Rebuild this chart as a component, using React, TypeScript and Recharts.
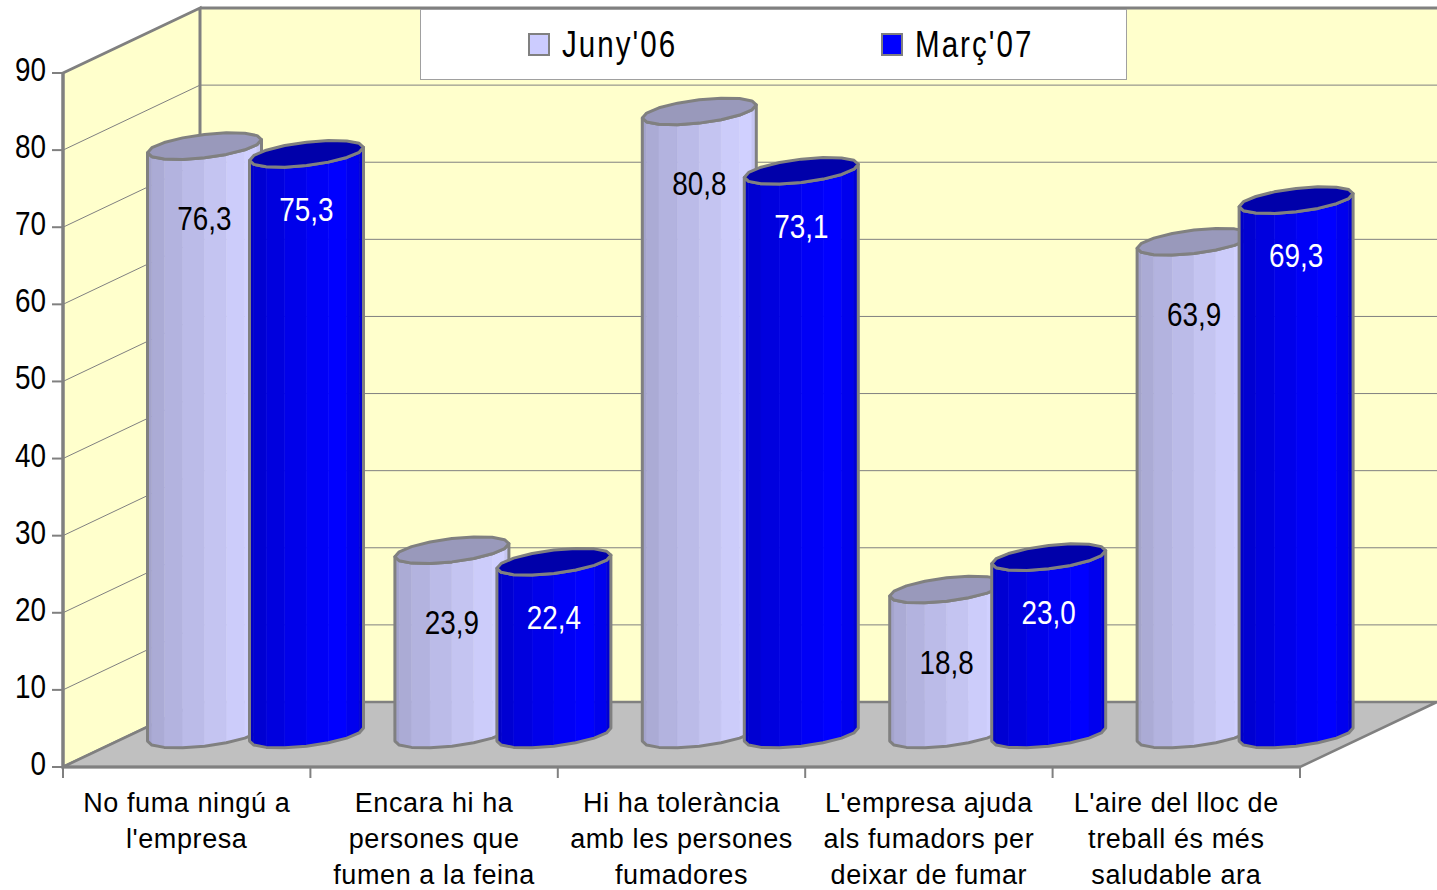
import React from "react";
import {
  BarChart,
  Bar,
  XAxis,
  YAxis,
  ReferenceArea,
  ReferenceLine,
  LabelList,
} from "recharts";

const categories = [
  "No fuma ningú a\nl'empresa",
  "Encara hi ha\npersones que\nfumen a la feina",
  "Hi ha tolerància\namb les persones\nfumadores",
  "L'empresa ajuda\nals fumadors per\ndeixar de fumar",
  "L'aire del lloc de\ntreball és més\nsaludable ara",
];
const juny06 = [76.3, 23.9, 80.8, 18.8, 63.9];
const marc07 = [75.3, 22.4, 73.1, 23.0, 69.3];
const seriesNames = ["Juny'06", "Març'07"];
const yTicks = [0, 10, 20, 30, 40, 50, 60, 70, 80, 90];

const data = categories.map((name, i) => ({
  name,
  juny06: juny06[i],
  marc07: marc07[i],
}));

// depth of the fake 3d box
const DX = 137;
const DY = 65;
const EDGE = "#808080";
const WALL = "#FFFFCC";
const FLOOR = "#C0C0C0";
// no narrow font installed: squeeze Liberation Sans instead
const NARROW = '"Liberation Sans", Arial, sans-serif';
const SQUEEZE = 0.82;
const PLAIN = '"Liberation Sans", Arial, sans-serif';

const LIGHT = {
  faces: ["#A3A3CB", "#ABABD5", "#B3B3DF", "#BBBBE8", "#C4C4F1", "#CCCCFA", "#D0D0FF", "#C6C6F2"],
  cap: "#9999BB",
  swatch: "#CCCCFF",
  text: "#000000",
  labelDrop: 72,
};
const DARK = {
  faces: ["#0000C4", "#0000D2", "#0000DE", "#0000EA", "#0000F6", "#0000FF", "#0000EE", "#0000D4"],
  cap: "#0000AA",
  swatch: "#0000FF",
  text: "#FFFFFF",
  labelDrop: 55,
};

const pts = (list: number[][]) => list.map((p) => p.join(",")).join(" ");

function NarrowText({ x, y, anchor, size, fill, children }: any) {
  return (
    <text
      transform={`translate(${x},${y}) scale(${SQUEEZE},1)`}
      x={0}
      y={0}
      textAnchor={anchor}
      fontFamily={NARROW}
      fontSize={size}
      fill={fill}
    >
      {children}
    </text>
  );
}

function makeCylinder(pal: typeof LIGHT) {
  return (props: any) => {
    const { x, y, width, height } = props;
    if (width == null || height == null) return <g />;
    const R = width / 2;
    const bx = R * 0.49;
    const by = -R * 0.235;
    const a = Math.sqrt(R * R - bx * bx);
    const cx = x + R + DX / 2;
    const top = y - DY / 2;
    const bot = y + height - DY / 2;
    const tL = Math.atan2(-bx, -a);
    const N = 16;
    const step = (2 * Math.PI) / N;
    const pt = (t: number, cy: number) => [
      cx + a * Math.cos(t) + bx * Math.sin(t),
      cy + by * Math.sin(t),
    ];
    const front = Array.from({ length: N / 2 + 1 }, (_, k) => tL + k * step);
    const faces = front.slice(0, -1).map((t, k) => {
      const t2 = front[k + 1];
      const f = pal.faces[k % pal.faces.length];
      return (
        <polygon
          key={k}
          points={pts([pt(t, top), pt(t2, top), pt(t2, bot), pt(t, bot)])}
          fill={f}
          stroke={f}
          strokeWidth={0.6}
        />
      );
    });
    const outline = [
      ...front.map((t) => pt(t, top)),
      ...front.slice().reverse().map((t) => pt(t, bot)),
    ];
    const cap = Array.from({ length: N }, (_, k) => pt(tL + k * step, top));
    return (
      <g>
        {faces}
        <polygon points={pts(outline)} fill="none" stroke={EDGE} strokeWidth={3} strokeLinejoin="round" />
        <polygon points={pts(cap)} fill={pal.cap} stroke={EDGE} strokeWidth={3} strokeLinejoin="round" />
      </g>
    );
  };
}

function makeLabel(pal: typeof LIGHT) {
  return (props: any) => {
    const { x, y, width, value } = props;
    return (
      <NarrowText
        x={x + width / 2 + DX / 2}
        y={y - DY / 2 + pal.labelDrop + 12}
        anchor="middle"
        size={34}
        fill={pal.text}
      >
        {Number(value).toFixed(1).replace(".", ",")}
      </NarrowText>
    );
  };
}

function Walls(props: any) {
  const { x, y, width, height } = props;
  const b = y + height;
  const n = categories.length;
  return (
    <g>
      <polygon
        points={pts([[x + DX, y - DY], [x + width + DX, y - DY], [x + width + DX, b - DY], [x + DX, b - DY]])}
        fill={WALL}
      />
      <polygon
        points={pts([[x, y], [x + DX, y - DY], [x + DX, b - DY], [x, b]])}
        fill={WALL}
        stroke={EDGE}
        strokeWidth={3}
      />
      <line x1={x + DX} y1={y - DY} x2={x + width + DX} y2={y - DY} stroke={EDGE} strokeWidth={3} />
      <polygon
        points={pts([[x, b], [x + DX, b - DY], [x + width + DX, b - DY], [x + width, b]])}
        fill={FLOOR}
        stroke={EDGE}
        strokeWidth={2.5}
      />
      {Array.from({ length: n + 1 }, (_, i) => (
        <line
          key={i}
          x1={x + (i * width) / n}
          y1={b}
          x2={x + (i * width) / n}
          y2={b + 11}
          stroke={EDGE}
          strokeWidth={2}
        />
      ))}
    </g>
  );
}

function GridShape(props: any) {
  const { x1, y1, x2 } = props;
  if (x1 == null) return <g />;
  return (
    <polyline
      points={pts([[x1, y1], [x1 + DX, y1 - DY], [x2 + DX, y1 - DY]])}
      fill="none"
      stroke={EDGE}
      strokeWidth={1}
    />
  );
}

function YTick(props: any) {
  const { x, y, payload } = props;
  return (
    <NarrowText x={x - 4} y={y + 8} anchor="end" size={34} fill="#000">
      {payload.value}
    </NarrowText>
  );
}

function XTick(props: any) {
  const { x, y, payload } = props;
  const lines = String(payload.value).split("\n");
  return (
    <text x={x} y={y} textAnchor="middle" fontFamily={PLAIN} fontSize={27} letterSpacing={0.6} fill="#000">
      {lines.map((l, i) => (
        <tspan key={i} x={x} dy={i === 0 ? 45 : 36}>
          {l}
        </tspan>
      ))}
    </text>
  );
}

const legendItems = [
  { name: seriesNames[0], color: LIGHT.swatch, left: 107 },
  { name: seriesNames[1], color: DARK.swatch, left: 460 },
];

export default function App() {
  return (
    <div style={{ position: "relative", width: 1437, height: 890, background: "#fff" }}>
      <style>{"body{margin:0}"}</style>
      <BarChart
        width={1437}
        height={890}
        data={data}
        margin={{ top: 73, right: 137, bottom: 0, left: 0 }}
        barSize={114}
        barGap={-12}
      >
        <ReferenceArea y1={0} y2={90} shape={Walls} zIndex={-90} ifOverflow="visible" />
        {yTicks.slice(1).map((t) => (
          <ReferenceLine key={t} y={t} shape={GridShape} zIndex={-80} ifOverflow="visible" />
        ))}
        <XAxis
          dataKey="name"
          interval={0}
          height={123}
          tickLine={false}
          tickSize={0}
          tickMargin={0}
          axisLine={{ stroke: EDGE, strokeWidth: 3 }}
          tick={XTick}
        />
        <YAxis
          type="number"
          domain={[0, 90]}
          ticks={yTicks}
          width={63}
          tickSize={11}
          axisLine={{ stroke: EDGE, strokeWidth: 3 }}
          tickLine={{ stroke: EDGE, strokeWidth: 2 }}
          tick={YTick}
        />
        <Bar dataKey="juny06" name={seriesNames[0]} fill={LIGHT.swatch} shape={makeCylinder(LIGHT)} isAnimationActive={false}>
          <LabelList dataKey="juny06" content={makeLabel(LIGHT)} />
        </Bar>
        <Bar dataKey="marc07" name={seriesNames[1]} fill={DARK.swatch} shape={makeCylinder(DARK)} isAnimationActive={false}>
          <LabelList dataKey="marc07" content={makeLabel(DARK)} />
        </Bar>
      </BarChart>
      <div
        style={{
          position: "absolute",
          left: 420,
          top: 9,
          width: 707,
          height: 71,
          background: "#fff",
          border: "1px solid #A0A0A0",
          boxSizing: "border-box",
        }}
      >
        {legendItems.map((it) => (
          <div
            key={it.name}
            style={{ position: "absolute", left: it.left, top: 0, height: 69, display: "flex", alignItems: "center" }}
          >
            <span
              style={{
                width: 18,
                height: 19,
                background: it.color,
                border: `2px solid ${EDGE}`,
                marginRight: 12,
                display: "inline-block",
              }}
            />
            <span
              style={{
                fontFamily: NARROW,
                fontSize: 36,
                letterSpacing: 2.5,
                color: "#000",
                display: "inline-block",
                transform: `scaleX(${SQUEEZE})`,
                transformOrigin: "left center",
              }}
            >
              {it.name}
            </span>
          </div>
        ))}
      </div>
    </div>
  );
}
